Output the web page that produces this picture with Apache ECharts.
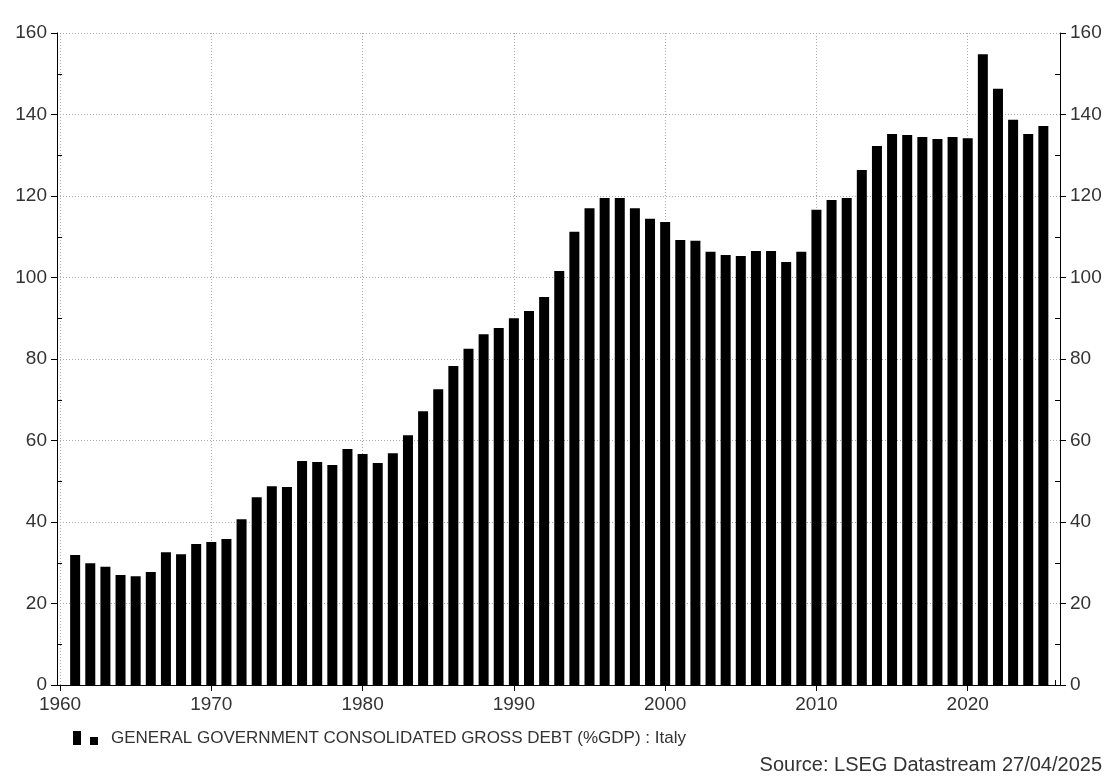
<!DOCTYPE html>
<html>
<head>
<meta charset="utf-8">
<script src="https://cdn.jsdelivr.net/npm/echarts@6/dist/echarts.min.js"></script>
<style>html,body{margin:0;padding:0;background:#fff}#chart{width:1118px;height:778px}</style>
</head>
<body>
<div id="chart"></div>
<script>
var years = [];
for (var y = 1961; y <= 2025; y++) years.push(y);
var debt = [31.9, 29.9, 29.0, 27.0, 26.7, 27.7, 32.6, 32.1, 34.6, 35.1,
    35.8, 40.7, 46.1, 48.8, 48.6, 55.0, 54.7, 54.0, 57.9, 56.7,
    54.5, 56.9, 61.3, 67.2, 72.6, 78.3, 82.5, 86.1, 87.6, 90.0,
    91.8, 95.2, 101.6, 111.2, 117.0, 119.5, 119.5, 117.0, 114.4, 113.6,
    109.2, 109.0, 106.3, 105.5, 105.3, 106.5, 106.5, 103.8, 106.3, 116.6,
    119.0, 119.5, 126.4, 132.3, 135.2, 135.0, 134.5, 134.0, 134.5, 134.2,
    154.8, 146.3, 138.7, 135.2, 137.2];
var xTicks = [1960, 1970, 1980, 1990, 2000, 2010, 2020];

var chart = echarts.init(document.getElementById('chart'));
var font = 'Liberation Sans, Arial, sans-serif';
var textCol = '#333';
function yAxis(pos) {
    return {
        type: 'value', position: pos, min: 0, max: 160, interval: 20,
        axisLine: {show: true, lineStyle: {color: '#000'}},
        axisTick: {show: true, length: 6, lineStyle: {color: '#000'}},
        minorTick: {show: true, splitNumber: 2, length: -5, lineStyle: {color: '#000'}},
        axisLabel: {color: textCol, fontSize: 19, fontFamily: font, margin: 10},
        splitLine: {show: pos === 'left', lineStyle: {color: '#aaa', type: [1, 2]}}
    };
}
chart.setOption({
    animation: false,
    grid: {left: 57, right: 58, top: 33, bottom: 93},
    xAxis: {
        type: 'value', min: 1959.8, max: 2026.1, interval: 10,
        axisLine: {lineStyle: {color: '#000'}},
        axisTick: {length: 6, lineStyle: {color: '#000'}, customValues: xTicks},
        minorTick: {show: true, splitNumber: 5, length: -5, lineStyle: {color: '#000'}},
        axisLabel: {color: textCol, fontSize: 19, fontFamily: font, margin: 10,
            customValues: xTicks, formatter: function (v) { return String(v); }},
        splitLine: {show: true, lineStyle: {color: '#aaa', type: [1, 2]}}
    },
    yAxis: [yAxis('left'), yAxis('right')],
    series: [{
        type: 'bar', barWidth: 10,
        itemStyle: {color: '#000'},
        data: years.map(function (yr, i) { return [yr, debt[i]]; })
    }],
    graphic: [
        {type: 'rect', shape: {x: 73, y: 731, width: 8, height: 14}, style: {fill: '#000'}},
        {type: 'rect', shape: {x: 90, y: 737, width: 8, height: 8}, style: {fill: '#000'}},
        {type: 'text', left: 111, top: 730, style: {text: 'GENERAL GOVERNMENT CONSOLIDATED GROSS DEBT (%GDP) : Italy', fill: textCol, font: '17px ' + font}},
        {type: 'text', right: 16, top: 755, style: {text: 'Source: LSEG Datastream 27/04/2025', fill: textCol, font: '20px ' + font}}
    ]
});
</script>
</body>
</html>
